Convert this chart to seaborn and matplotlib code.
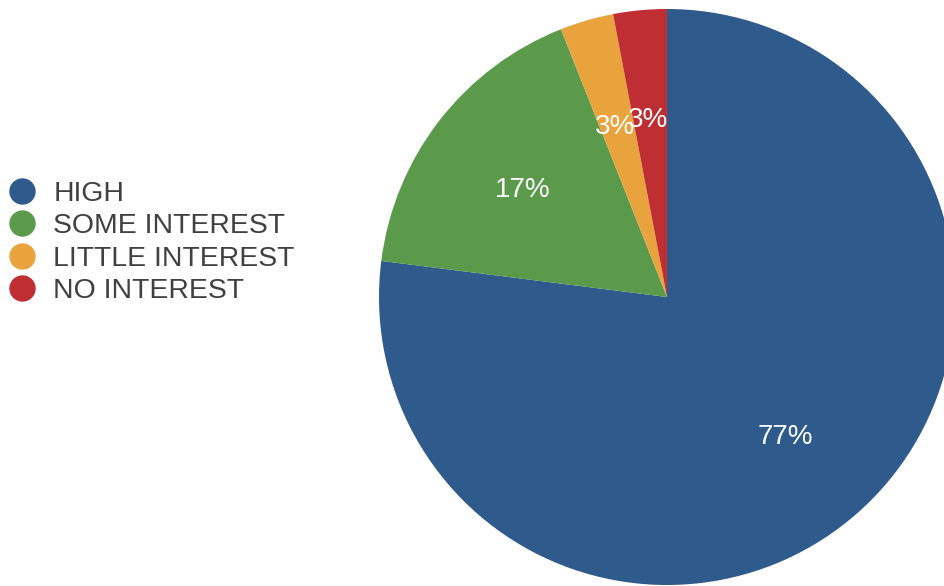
import matplotlib
matplotlib.use("Agg")
import matplotlib.pyplot as plt
from matplotlib.lines import Line2D
import seaborn as sns

categories = ["HIGH", "SOME INTEREST", "LITTLE INTEREST", "NO INTEREST"]
shares = [77, 17, 3, 3]
palette_hex = ["#2E5A8C", "#5B9A4B", "#E8A33D", "#BE2E32"]

sns.set_theme(style="white")
plt.rcParams["font.family"] = ["Liberation Sans", "DejaVu Sans"]
colors = sns.color_palette(palette_hex)

fig = plt.figure(figsize=(9.45, 5.86), dpi=100)
W, H = 945, 586
cx, cy, r = 667, 297, 288
ax = fig.add_axes([(cx - r) / W, (H - cy - r) / H, 2 * r / W, 2 * r / H])

wedges, texts, autotexts = ax.pie(
    shares,
    colors=colors,
    startangle=90,
    counterclock=False,
    autopct=lambda p: f"{p:.0f}%",
    pctdistance=0.63,
    radius=1.0,
    wedgeprops=dict(linewidth=0),
    textprops=dict(color="white", fontsize=20),
)
# nudge percentage labels slightly below their radial anchor
for t in autotexts:
    x, y = t.get_position()
    t.set_position((x - 0.005, y - 0.014))

ax.set_xlim(-1, 1)
ax.set_ylim(-1, 1)
ax.set_aspect("equal")
ax.axis("off")

handles = [
    Line2D([0], [0], marker="o", linestyle="none", markersize=18,
           markerfacecolor=c, markeredgecolor=c)
    for c in colors
]
fig.legend(
    handles, categories,
    loc="center left",
    bbox_to_anchor=(8 / W, 1 - 242.5 / H),
    frameon=False,
    fontsize=20.4,
    handlelength=1.0,
    handletextpad=0.6,
    labelspacing=0.22,
    borderpad=0,
    borderaxespad=0,
    labelcolor="#404040",
)

fig.savefig("out.png", dpi=100)
